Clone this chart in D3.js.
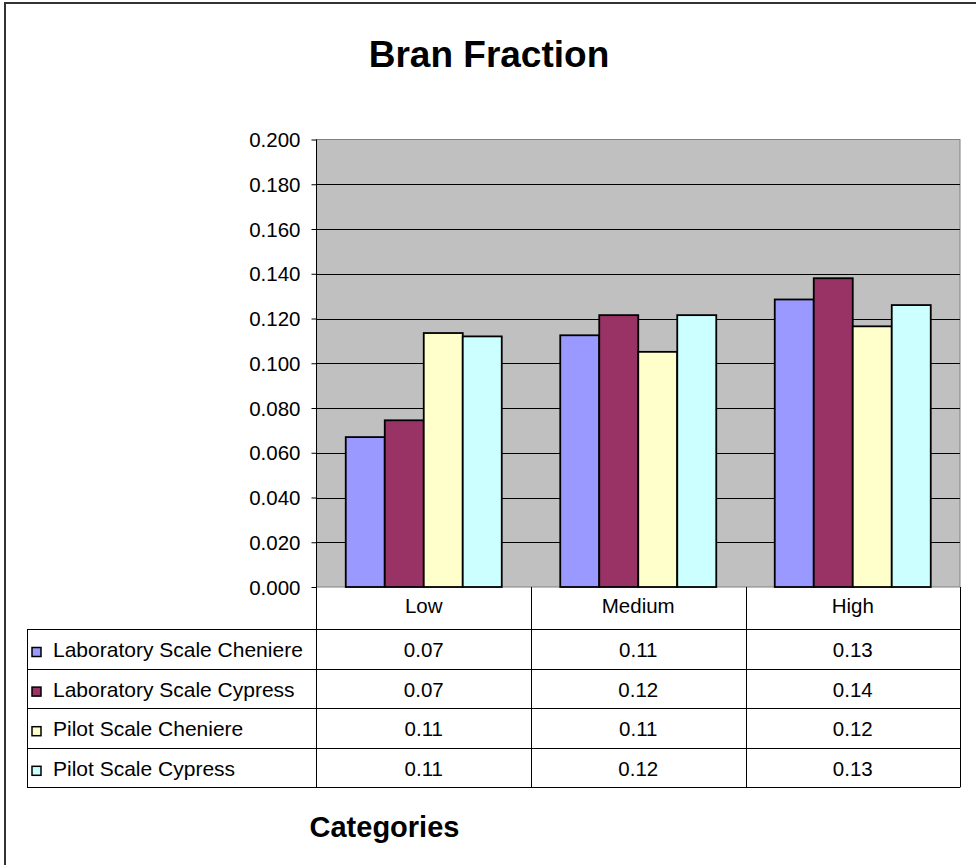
<!DOCTYPE html>
<html>
<head>
<meta charset="utf-8">
<script src="https://cdn.jsdelivr.net/npm/d3@7"></script>
<style>
  body { margin: 0; background: #fff; }
  text { font-family: Arial, "Liberation Sans", sans-serif; }
</style>
</head>
<body>
<script>
const categories = ["Low", "Medium", "High"];
const series = ["Laboratory Scale Cheniere", "Laboratory Scale Cypress", "Pilot Scale Cheniere", "Pilot Scale Cypress"];
const colors = ["#9999FF", "#993366", "#FFFFCC", "#CCFFFF"];
// values per series, in category order
const labCheniere = [0.067, 0.1125, 0.1285];
const labCypress = [0.0745, 0.1215, 0.138];
const pilotCheniere = [0.1135, 0.1051, 0.1165];
const pilotCypress = [0.112, 0.1215, 0.126];
const yTicks = [0, 0.02, 0.04, 0.06, 0.08, 0.1, 0.12, 0.14, 0.16, 0.18, 0.2];

const values = [labCheniere, labCypress, pilotCheniere, pilotCypress];

const width = 976, height = 865;
const plot = { left: 316.5, right: 960, top: 139.5, bottom: 587 };
const rowH = 39.6;
const headerBottom = 629;
const tableLeft = 27;

const svg = d3.select("body").append("svg")
    .attr("width", width)
    .attr("height", height);

// outer chart border (right/bottom sit outside the picture)
svg.append("rect")
    .attr("x", 5).attr("y", 3)
    .attr("width", 1000).attr("height", 1000)
    .attr("fill", "none")
    .attr("stroke", "#333")
    .attr("stroke-width", 2);

svg.append("text")
    .attr("x", 489).attr("y", 67)
    .attr("text-anchor", "middle")
    .style("font-size", "37px")
    .style("font-weight", "bold")
    .text("Bran Fraction");

const x0 = d3.scaleBand()
    .domain(categories)
    .range([plot.left, plot.right]);

const x1 = d3.scaleBand()
    .domain(series)
    .range([0, x0.bandwidth()])
    .paddingOuter(0.75);

const y = d3.scaleLinear()
    .domain([0, 0.2])
    .range([plot.bottom, plot.top]);

// plot area
svg.append("rect")
    .attr("x", plot.left).attr("y", plot.top)
    .attr("width", plot.right - plot.left)
    .attr("height", plot.bottom - plot.top)
    .attr("fill", "#C0C0C0")
    .attr("stroke", "#808080");

svg.append("g")
    .selectAll("line")
    .data(yTicks.slice(1, -1))
    .enter()
    .append("line")
    .attr("x1", plot.left).attr("x2", plot.right)
    .attr("y1", d => Math.round(y(d)) + 0.5)
    .attr("y2", d => Math.round(y(d)) + 0.5)
    .attr("stroke", "#000");

// bars
const groups = svg.append("g")
    .selectAll("g")
    .data(categories)
    .enter()
    .append("g")
    .attr("transform", d => `translate(${x0(d)},0)`);

groups.selectAll("rect")
    .data((c, ci) => series.map((s, si) => ({ s: s, si: si, v: values[si][ci] })))
    .enter()
    .append("rect")
    .attr("x", d => x1(d.s))
    .attr("y", d => y(d.v))
    .attr("width", x1.bandwidth())
    .attr("height", d => plot.bottom - y(d.v))
    .attr("fill", d => colors[d.si])
    .attr("stroke", "#000")
    .attr("stroke-width", 1.8);

// y axis
const yAxis = d3.axisLeft(y)
    .tickValues(yTicks)
    .tickSize(5)
    .tickFormat(d3.format(".3f"));

const ya = svg.append("g")
    .attr("transform", `translate(${plot.left},0)`)
    .call(yAxis);
ya.select(".domain").remove();
ya.selectAll("text")
    .attr("x", -16)
    .attr("dy", "0.35em")
    .style("font-size", "20.5px")
    .style("font-family", "Arial, 'Liberation Sans', sans-serif")
    .attr("fill", "#000");
ya.selectAll("line").attr("stroke", "#000");

// data table
const tableBottom = headerBottom + rowH * series.length;
const t = svg.append("g");

t.append("line")
    .attr("x1", plot.left).attr("x2", plot.left)
    .attr("y1", plot.top).attr("y2", tableBottom)
    .attr("stroke", "#000");

t.selectAll(".vline")
    .data(categories)
    .enter()
    .append("line")
    .attr("x1", d => Math.round(x0(d) + x0.bandwidth()) + 0.5)
    .attr("x2", d => Math.round(x0(d) + x0.bandwidth()) + 0.5)
    .attr("y1", plot.bottom).attr("y2", tableBottom)
    .attr("stroke", "#000");

t.selectAll(".hline")
    .data(d3.range(series.length + 1))
    .enter()
    .append("line")
    .attr("x1", tableLeft).attr("x2", plot.right)
    .attr("y1", i => Math.round(headerBottom + i * rowH) + 0.5)
    .attr("y2", i => Math.round(headerBottom + i * rowH) + 0.5)
    .attr("stroke", "#000");

t.append("line")
    .attr("x1", tableLeft + 0.5).attr("x2", tableLeft + 0.5)
    .attr("y1", headerBottom).attr("y2", tableBottom)
    .attr("stroke", "#000");

t.selectAll(".cat")
    .data(categories)
    .enter()
    .append("text")
    .attr("x", d => x0(d) + x0.bandwidth() / 2)
    .attr("y", 613)
    .attr("text-anchor", "middle")
    .style("font-size", "20.5px")
    .text(d => d);

const rows = t.selectAll(".row")
    .data(series)
    .enter()
    .append("g")
    .attr("transform", (d, i) => `translate(0,${headerBottom + i * rowH})`);

rows.append("rect")
    .attr("x", 32).attr("y", 18.5)
    .attr("width", 9).attr("height", 9)
    .attr("fill", (d, i) => colors[i])
    .attr("stroke", "#000")
    .attr("stroke-width", 1.5);

rows.append("text")
    .attr("x", 53).attr("y", 28)
    .style("font-size", "21px")
    .text(d => d);

rows.selectAll(".val")
    .data((s, si) => categories.map((c, ci) => ({ c: c, v: values[si][ci] })))
    .enter()
    .append("text")
    .attr("x", d => x0(d.c) + x0.bandwidth() / 2)
    .attr("y", 28)
    .attr("text-anchor", "middle")
    .style("font-size", "20.5px")
    .text(d => d3.format(".2f")(d.v));

svg.append("text")
    .attr("x", 384.5).attr("y", 837)
    .attr("text-anchor", "middle")
    .style("font-size", "29px")
    .style("font-weight", "bold")
    .text("Categories");
</script>
</body>
</html>
